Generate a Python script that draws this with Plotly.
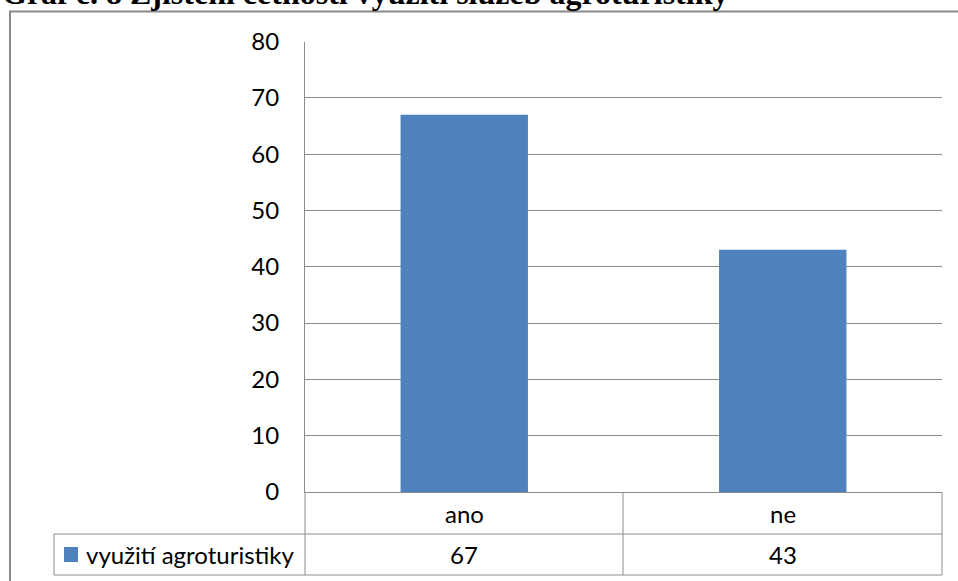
import plotly.graph_objects as go

categories = ["ano", "ne"]
values = [67, 43]
series_name = "využití agroturistiky"
y_ticks = [0, 10, 20, 30, 40, 50, 60, 70, 80]
title_text = "Graf č. 8 Zjištění četnosti využití služeb agroturistiky"

W, H = 958, 581
def px(x):
    return x / W
def py(y):
    return 1 - y / H

bar_color = "#4F81BD"
grid_color = "#8C8C8C"
font_family = "Lato, 'Open Sans', sans-serif"

x0, x1 = 305, 942
y_top, y_zero = 41.5, 492
row1, row2 = 534, 575

fig = go.Figure()
fig.add_trace(go.Bar(
    x=categories, y=values, name=series_name,
    marker=dict(color=bar_color, line=dict(width=0)),
    width=0.4, showlegend=False, hoverinfo="x+y",
))

shapes = []
# outer border
shapes.append(dict(type="rect", xref="paper", yref="paper",
                   x0=px(10), x1=px(970), y0=py(600), y1=py(11.5),
                   line=dict(color="#888888", width=2)))
def hline(y, xa, xb):
    shapes.append(dict(type="line", xref="paper", yref="paper",
                       x0=px(xa), x1=px(xb), y0=py(y), y1=py(y),
                       line=dict(color=grid_color, width=1)))
def vline(x, ya, yb):
    shapes.append(dict(type="line", xref="paper", yref="paper",
                       x0=px(x), x1=px(x), y0=py(ya), y1=py(yb),
                       line=dict(color=grid_color, width=1)))

# table lines
vline(x0, y_zero, row2)
vline(623, y_zero, row2)
vline(x1, y_zero, row2)
vline(54, row1, row2)
hline(row1, 54, x1)
hline(row2, 54, x1)
# legend key square
shapes.append(dict(type="rect", xref="paper", yref="paper",
                   x0=px(64), x1=px(78), y0=py(562), y1=py(547),
                   fillcolor=bar_color, line=dict(width=0)))

annotations = []
tfont = dict(family=font_family, size=24, color="#000000")
for c, v in zip(categories, values):
    annotations.append(dict(x=c, xref="x", y=py((y_zero + row1) / 2), yref="paper",
                            text=c, showarrow=False, font=tfont,
                            xanchor="center", yanchor="middle"))
    annotations.append(dict(x=c, xref="x", y=py((row1 + row2) / 2), yref="paper",
                            text=str(v), showarrow=False, font=tfont,
                            xanchor="center", yanchor="middle"))
annotations.append(dict(x=px(84), xref="paper", y=py((row1 + row2) / 2), yref="paper",
                        text=series_name, showarrow=False, font=tfont,
                        xanchor="left", yanchor="middle"))
# title (partly cut off at top)
annotations.append(dict(x=px(0), xref="paper", y=py(6), yref="paper",
                        text="<b>" + title_text + "</b>", showarrow=False,
                        font=dict(family="'Liberation Serif', 'Times New Roman', serif",
                                  size=32, color="#000000"),
                        xanchor="left", yanchor="bottom", yshift=-7))

fig.update_layout(
    width=W, height=H,
    margin=dict(l=0, r=0, t=0, b=0, autoexpand=False),
    paper_bgcolor="white", plot_bgcolor="white",
    shapes=shapes, annotations=annotations,
    xaxis=dict(domain=[px(x0), px(x1)], range=[-0.5, 1.5],
               showticklabels=False, showgrid=False, zeroline=False,
               showline=True, linecolor=grid_color, linewidth=1, ticks=""),
    yaxis=dict(domain=[py(y_zero), py(y_top)], range=[0, 80],
               tickvals=y_ticks, showgrid=True, gridcolor=grid_color, gridwidth=1,
               zeroline=False, showline=True, linecolor=grid_color, linewidth=1,
               ticks="", ticklabelstandoff=20,
               tickfont=dict(family=font_family, size=24, color="#000000")),
    font=dict(family=font_family),
)

fig.write_html("out.html", config={"displayModeBar": False},
               post_script="document.body.style.margin='0';")
